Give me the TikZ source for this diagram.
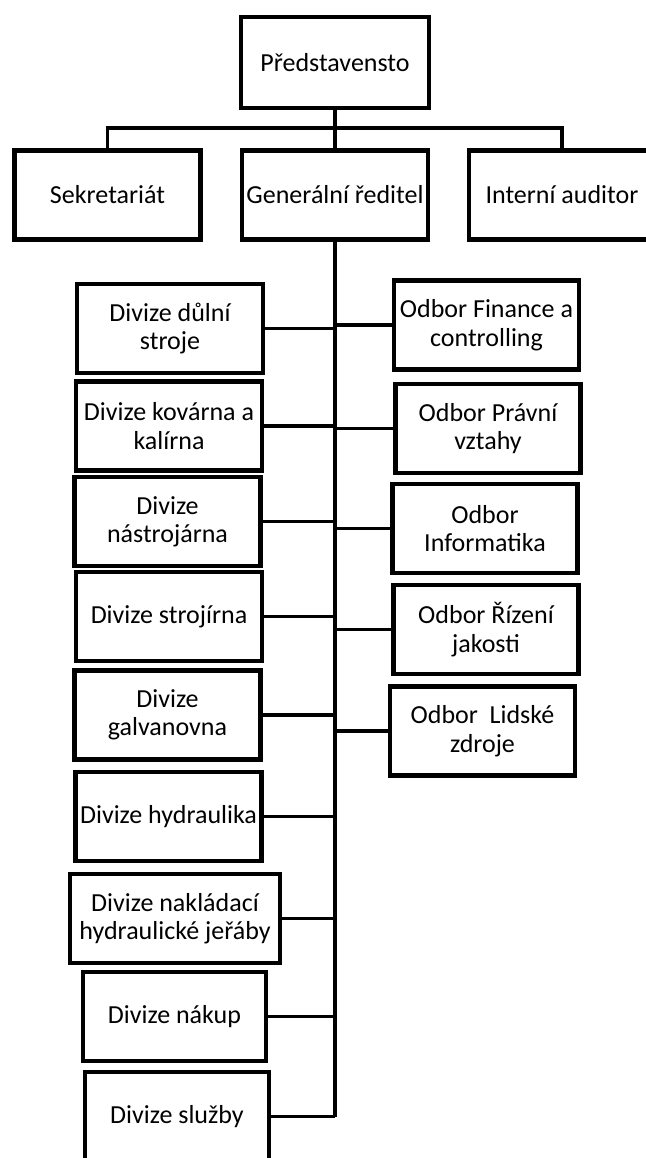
\documentclass[tikz,border=0pt]{standalone}
\usepackage{fontspec}
\setmainfont{Carlito}
\usepackage{tikz}

\tikzset{
  unit/.style={draw, rectangle, line width=2.2pt, align=center,
    minimum width=93pt, minimum height=44.5pt, inner sep=1pt,
    font=\fontsize{13}{14.2}\selectfont},
  link/.style={line width=1.8pt}
}

\begin{document}
\begin{tikzpicture}[x=0.5pt,y=-0.5pt]
    \useasboundingbox (0,0) rectangle (646,1158);
    %top
    \node[unit, minimum width=94pt, minimum height=45.5pt] (pred) at (335,62.5) {Představensto};
    \node[unit] (sekr) at (107.5,195) {Sekretariát};
    \node[unit] (genr) at (335,195) {Generální ředitel};
    \node[unit] (audit) at (562,195) {Interní auditor};
    \coordinate (bus) at (335,128);

    %divize
    \node[unit] (d_dul) at (170,328.5) {Divize důlní\\ stroje};
    \node[unit] (d_kov) at (169,426) {Divize kovárna a\\ kalírna};
    \node[unit] (d_nas) at (167.5,521.5) {Divize\\ nástrojárna};
    \node[unit] (d_str) at (169,616.5) {Divize strojírna};
    \node[unit] (d_gal) at (167.5,715) {Divize\\ galvanovna};
    \node[unit] (d_hyd) at (168.5,816.5) {Divize hydraulika};
    \node[unit, minimum width=105pt] (d_jer) at (175,918.5) {Divize nakládací\\ hydraulické jeřáby};
    \node[unit, minimum width=91.5pt] (d_nak) at (174.5,1016.5) {Divize nákup};
    \node[unit, minimum width=92pt] (d_slu) at (177,1116.5) {Divize služby};

    %odbory
    \node[unit, minimum width=92.5pt] (o_fin) at (486.5,325) {Odbor Finance a\\ controlling};
    \node[unit, minimum width=92.5pt] (o_pra) at (488,428.5) {Odbor Právní\\ vztahy};
    \node[unit, minimum width=92.5pt] (o_inf) at (485,528.5) {Odbor\\ Informatika};
    \node[unit, minimum width=92.5pt] (o_riz) at (486,629.5) {Odbor Řízení\\ jakosti};
    \node[unit, minimum width=92.5pt] (o_lid) at (482.5,731) {Odbor~~Lidské\\ zdroje};

    \draw[link] (pred.south) -- (genr.north);
    \draw[link] (sekr.north) |- (bus) -| (audit.north);
    \draw[link, line width=2pt] (genr.south) -- (genr.south |- d_slu.east);
    \path[link]
     (d_dul.east) edge (d_dul.east -| genr.south)
     (d_kov.east) edge (d_kov.east -| genr.south)
     (d_nas.east) edge (d_nas.east -| genr.south)
     (d_str.east) edge (d_str.east -| genr.south)
     (d_gal.east) edge (d_gal.east -| genr.south)
     (d_hyd.east) edge (d_hyd.east -| genr.south)
     (d_jer.east) edge (d_jer.east -| genr.south)
     (d_nak.east) edge (d_nak.east -| genr.south)
     (d_slu.east) edge (d_slu.east -| genr.south)
     (o_fin.west) edge (o_fin.west -| genr.south)
     (o_pra.west) edge (o_pra.west -| genr.south)
     (o_inf.west) edge (o_inf.west -| genr.south)
     (o_riz.west) edge (o_riz.west -| genr.south)
     (o_lid.west) edge (o_lid.west -| genr.south);
\end{tikzpicture}
\end{document}
